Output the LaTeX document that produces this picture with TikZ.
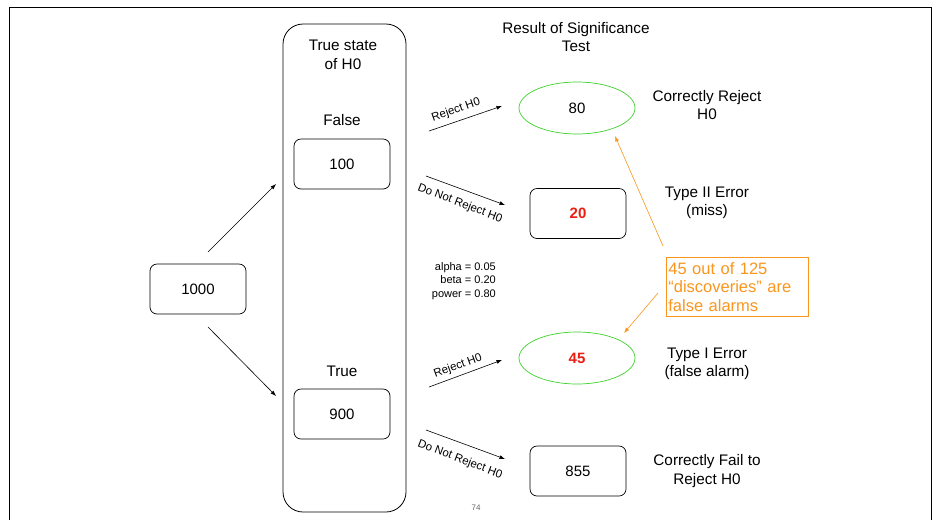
\documentclass[tikz,border=0pt]{standalone}
\usepackage{fontspec}
\setmainfont{Liberation Sans}
\usetikzlibrary{shapes.geometric,arrows.meta}
\definecolor{grn}{RGB}{60,210,40}
\definecolor{org}{RGB}{250,150,30}
\definecolor{rd}{RGB}{235,30,20}
\begin{document}
\begin{tikzpicture}[x=1pt,y=-1pt,
  txt/.style={font=\fontsize{15.3}{18.5}\selectfont,align=center,inner sep=0},
  nbox/.style={draw,rounded corners=7pt,minimum width=96pt,minimum height=50pt,font=\fontsize{15}{18}\selectfont,line width=0.7pt},
  nell/.style={draw=grn,ellipse,minimum width=116pt,minimum height=52pt,font=\fontsize{15}{18}\selectfont,line width=0.7pt},
  arr/.style={-{Latex[length=5.5pt,width=4pt]},line width=0.6pt},
  lab/.style={font=\fontsize{11.5}{13}\selectfont,inner sep=0},
  oarr/.style={-{Latex[length=5.5pt,width=4pt]},draw=org,line width=0.6pt}]
\useasboundingbox (0,0) rectangle (936,520);
\fill[white] (0,0) rectangle (936,520);
\draw[line width=0.8pt] (9,520) -- (9,7) -- (931,7) -- (931,520);
% big column
\node[draw,rounded corners=20pt,minimum width=123pt,minimum height=488pt,line width=0.8pt] (col) at (344.5,268) {};
\node[txt] (ts) at (343,55) {True state\\of H0};
\node[txt] (fl) at (342,120) {False};
\node[txt] (tr) at (342,371) {True};
\node[nbox] (b100) at (342,164) {100};
\node[nbox] (b900) at (342,414) {900};
\node[nbox] (b1000) at (198,289) {1000};
\node[txt] (res) at (576,37) {Result of Significance\\Test};
\node[nell] (e80) at (577,108) {80};
\node[nbox] (b20) at (578,213.5) {\textcolor{rd}{\textbf{20}}};
\node[nell] (e45) at (577,358) {\textcolor{rd}{\textbf{45}}};
\node[nbox] (b855) at (578,471) {855};
% coordinates for connectors
\coordinate (a1s) at (208,252); \coordinate (a1e) at (276,184);
\coordinate (a2s) at (208,327); \coordinate (a2e) at (276,396);
\draw[arr] (a1s) -- (a1e);
\draw[arr] (a2s) -- (a2e);
\coordinate (r1s) at (429,131); \coordinate (r1e) at (502,106);
\coordinate (d1s) at (426,176); \coordinate (d1e) at (505,205);
\coordinate (r2s) at (429,387); \coordinate (r2e) at (502,360);
\coordinate (d2s) at (426,430); \coordinate (d2e) at (505,459);
\draw[arr] (r1s) -- (r1e);
\draw[arr] (d1s) -- (d1e);
\draw[arr] (r2s) -- (r2e);
\draw[arr] (d2s) -- (d2e);
\node[lab,rotate=19] (l1) at (456,110) {Reject H0};
\node[lab,rotate=-21] (l2) at (460,203.5) {Do Not Reject H0};
\node[lab,rotate=20] (l3) at (458,366) {Reject H0};
\node[lab,rotate=-21] (l4) at (460,459.5) {Do Not Reject H0};
\node[font=\fontsize{11}{13.5}\selectfont,align=right,anchor=east,inner sep=0] (ab) at (496,281) {alpha = 0.05\\beta = 0.20\\power = 0.80};
\node[txt] (cr) at (707,105) {Correctly Reject\\H0};
\node[txt] (t2) at (707,203) {Type II Error\\(miss)};
\node[txt] (t1) at (707,364) {Type I Error\\(false alarm)};
\node[txt] (cf) at (707,471) {Correctly Fail to\\Reject H0};
\node[draw=org,text=org,align=left,anchor=north west,minimum width=142pt,minimum height=59pt,inner sep=2pt,font=\fontsize{16.5}{18.5}\selectfont,text width=138pt,line width=0.7pt] (ob) at (666,257) {45 out of 125\\“discoveries” are\\false alarms};
\coordinate (o1s) at (663,246); \coordinate (o1e) at (615,136);
\coordinate (o2s) at (658,293); \coordinate (o2e) at (624,333);
\draw[oarr] (o1s) -- (o1e);
\draw[oarr] (o2s) -- (o2e);
\node[font=\fontsize{8}{10}\selectfont,text=black!60] (pg) at (476,508) {74};
\end{tikzpicture}
\end{document}
